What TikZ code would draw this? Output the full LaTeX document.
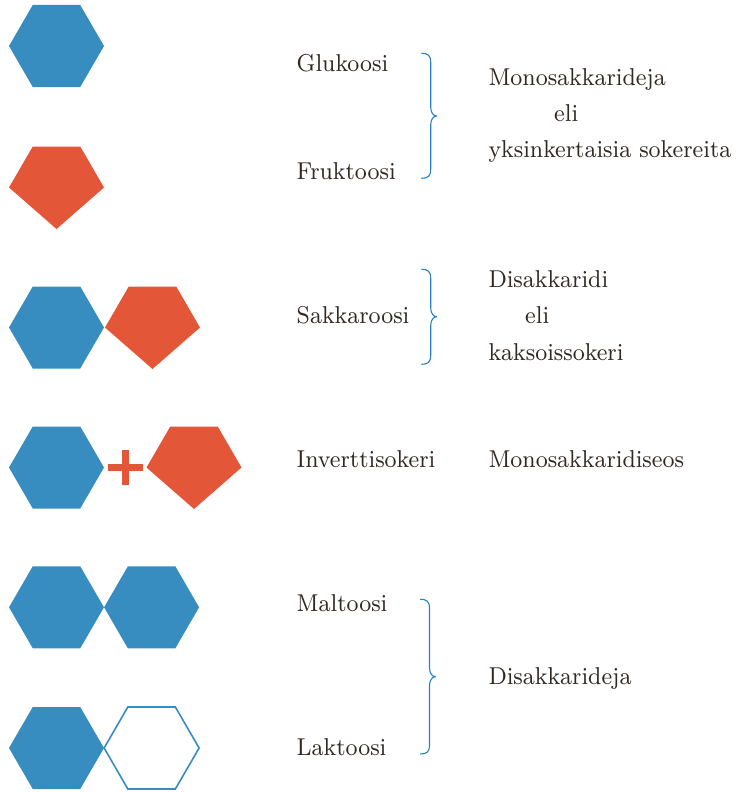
\documentclass[tikz,border=0pt]{standalone}
\usepackage{fontspec}
\usepackage{tikz}

% a sturdier optical size of Latin Modern for the labels
\newfontfamily\labelfont{lmroman8-regular.otf}[FakeStretch=0.925]

\definecolor{glublue}{RGB}{56,141,192}
\definecolor{frured}{RGB}{227,87,56}
\definecolor{bracecol}{RGB}{42,126,194}
\definecolor{inkbrown}{RGB}{50,40,34}

% flat-topped hexagon centred at (#1,#2)
\newcommand\hexpath[2]{
  ({#1-47.5},{#2}) -- ({#1-23.75},{#2-41}) -- ({#1+23.75},{#2-41}) --
  ({#1+47.5},{#2}) -- ({#1+23.75},{#2+41}) -- ({#1-23.75},{#2+41}) -- cycle}
% pentagon: upper half of the hexagon closed by one lower point
\newcommand\pentpath[2]{
  ({#1-47.5},{#2}) -- ({#1-23.75},{#2-41}) -- ({#1+23.75},{#2-41}) --
  ({#1+47.5},{#2}) -- ({#1},{#2+41.5}) -- cycle}
% curly brace: left ends at x=#1, from y=#2 to y=#3, tip at y=#4
\newcommand\sugarbrace[4]{
  \draw[brace line]
    ({#1},{#2}) .. controls ({#1+6},{#2}) and ({#1+9},{#2+2}) .. ({#1+9},{#2+9})
    -- ({#1+9},{#4-9}) .. controls ({#1+9},{#4-3}) and ({#1+12},{#4}) .. ({#1+15},{#4})
    .. controls ({#1+12},{#4}) and ({#1+9},{#4+3}) .. ({#1+9},{#4+9})
    -- ({#1+9},{#3-9}) .. controls ({#1+9},{#3-2}) and ({#1+6},{#3}) .. ({#1},{#3});}

\begin{document}
\begin{tikzpicture}[x=1pt,y=-1pt,
  label text/.style={anchor=base west,inner sep=0pt,text=inkbrown,
    font=\labelfont\fontsize{24.4}{28}\selectfont},
  brace line/.style={draw=bracecol,line width=1.1pt,line cap=round,line join=round},
  glucose/.style={fill=glublue},
  fructose/.style={fill=frured},
  galactose/.style={draw=glublue,line width=1.6pt,fill=white}]
\useasboundingbox (0,0) rectangle (749,792);

% sugar units
\fill[glucose] \hexpath{56.5}{46};
\fill[fructose] \pentpath{56.5}{187.5};

\fill[glucose] \hexpath{56.5}{327.5};
\fill[fructose] \pentpath{152.5}{327.5};

\fill[glucose] \hexpath{56.5}{467.5};
\fill[frured] (107.5,463.8) rectangle (142.7,470.6);
\fill[frured] (121.8,449.5) rectangle (128.8,484.5);
\fill[fructose] \pentpath{194}{467.5};

\fill[glucose] \hexpath{56.5}{607.3};
\fill[glucose] \hexpath{151.6}{607.3};

\fill[glucose] \hexpath{56.5}{748};
\draw[galactose] \hexpath{151.6}{748};

% names
\node[label text] (glu) at (296.5,71.7) {Glukoosi};
\node[label text] (fru) at (296.5,179) {Fruktoosi};
\node[label text] (sak) at (296.5,323.3) {Sakkaroosi};
\node[label text] (inv) at (296.5,467.3) {Inverttisokeri};
\node[label text] (mal) at (296.5,611.7) {Maltoosi};
\node[label text] (lak) at (296.5,755) {Laktoosi};

% groups
\node[label text] (mono1) at (488.3,85) {Monosakkarideja};
\node[label text] (mono2) at (554,121) {eli};
\node[label text] (mono3) at (488.3,157.3) {yksinkertaisia sokereita};

\node[label text] (di1) at (488.3,287.3) {Disakkaridi};
\node[label text] (di2) at (525,323.3) {eli};
\node[label text] (di3) at (488.3,360) {kaksoissokeri};

\node[label text] (seos) at (488.3,467.3) {Monosakkaridiseos};

\node[label text] (dis) at (488.3,684) {Disakkarideja};

% braces
\sugarbrace{421.7}{53.3}{178.3}{116}
\sugarbrace{421.7}{269.3}{364.3}{316.7}
\sugarbrace{420.5}{599.3}{754}{676.7}
\end{tikzpicture}
\end{document}
